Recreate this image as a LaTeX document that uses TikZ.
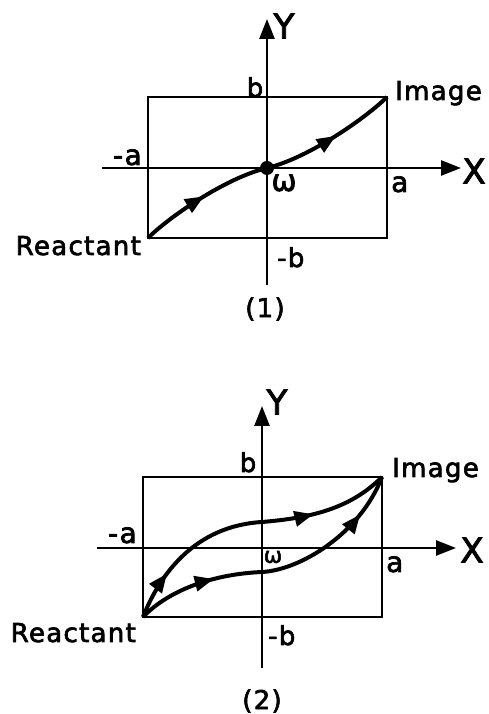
\documentclass[tikz,border=0pt]{standalone}
\usepackage{fontspec}
\setmainfont{DejaVu Sans}[FakeBold=2.5]
\newfontfamily\lblfont{DejaVu Sans}[LetterSpace=5,FakeBold=2.5]
\usetikzlibrary{arrows.meta,decorations.markings}
\tikzset{
  frame/.style={line width=2.6pt},
  axisline/.style={line width=2.6pt,-{Triangle[length=20pt,width=15pt]}},
  pathline/.style={line width=4pt},
  twoarrows/.style 2 args={postaction={decorate},
    decoration={markings,
      mark=at position #1 with {\arrow{Triangle[length=19pt,width=15pt]}},
      mark=at position #2 with {\arrow{Triangle[length=19pt,width=15pt]}}}},
  lbl/.style={inner sep=0pt, font=\lblfont\fontsize{26}{26}\selectfont},
  lblab/.style={inner sep=0pt, font=\lblfont\fontsize{28}{28}\selectfont},
  lblxy/.style={inner sep=0pt, font=\fontsize{34}{34}\selectfont},
  lblw/.style={inner sep=0pt, font=\fontsize{#1}{#1}\selectfont},
}
\begin{document}
\begin{tikzpicture}[x=1pt,y=1pt]
\useasboundingbox (0,0) rectangle (489,714);
% ---------------- panel 1 ----------------
\coordinate (r1) at (148,476);
\coordinate (i1) at (387,617);
\coordinate (o1) at (267,546);
\coordinate (yb1) at (267,429);
\coordinate (yt1) at (267,695);
\coordinate (xl1) at (102,546);
\coordinate (xr1) at (461,546);
\draw[frame] (r1) rectangle (i1);
\draw[axisline] (yb1) -- (yt1);
\draw[axisline] (xl1) -- (xr1);
\draw[pathline,twoarrows={0.25}{0.77}] (r1) .. controls (168,496) and (225,536) .. (o1)
  .. controls (309,556) and (367,597) .. (i1);
\fill (o1) circle (7pt);
\node[lblxy] (Y1) at (284,688) {Y};
\node[lblxy] (X1) at (474,543) {X};
\node[lbl,anchor=base] (b1) at (255,617) {b};
\node[lbl,anchor=base west] (img1) at (395,614) {Image};
\node[lblab,anchor=base east] (ma1) at (142,549) {-a};
\node[lblab,anchor=base west] (a1) at (391,522) {a};
\node[lblw=30] (w1) at (284,531) {ω};
\node[lbl,anchor=base east] (re1) at (141,459) {Reactant};
\node[lbl,anchor=base west] (mb1) at (277,447) {-b};
\node[lbl] (c1) at (265,405) {(1)};
% ---------------- panel 2 ----------------
\coordinate (r2) at (143,97);
\coordinate (i2) at (382,237);
\coordinate (mu2) at (262,192);
\coordinate (ml2) at (262,142);
\coordinate (yb2) at (262,46);
\coordinate (yt2) at (262,308);
\coordinate (xl2) at (97,166);
\coordinate (xr2) at (456,166);
\draw[frame] (r2) rectangle (i2);
\draw[axisline] (yb2) -- (yt2);
\draw[axisline] (xl2) -- (xr2);
\draw[pathline,twoarrows={0.17}{0.73}] (r2) .. controls (160,140) and (195,188) .. (mu2)
  .. controls (310,196) and (350,205) .. (i2);
\draw[pathline,twoarrows={0.28}{0.85}] (r2) .. controls (170,125) and (215,140) .. (ml2)
  .. controls (300,144) and (360,180) .. (i2);
\node[lblxy] (Y2) at (277,312) {Y};
\node[lblxy] (X2) at (472,164) {X};
\node[lbl,anchor=base] (b2) at (248,242) {b};
\node[lbl,anchor=base west] (img2) at (392,237) {Image};
\node[lblab,anchor=base east] (ma2) at (137,171) {-a};
\node[lblab,anchor=base west] (a2) at (386,142) {a};
\node[lblw=22] (w2) at (273,157) {ω};
\node[lbl,anchor=base east] (re2) at (136,72) {Reactant};
\node[lbl,anchor=base west] (mb2) at (268,69) {-b};
\node[lbl] (c2) at (262,13) {(2)};
\end{tikzpicture}
\end{document}
